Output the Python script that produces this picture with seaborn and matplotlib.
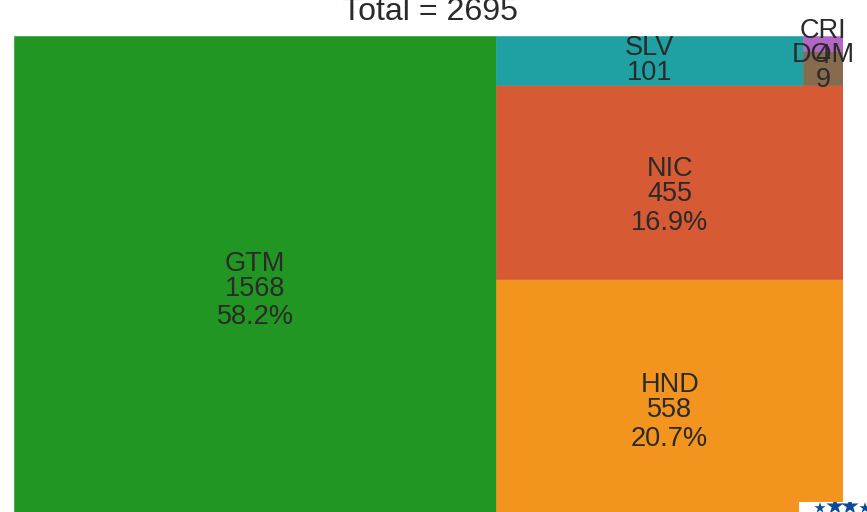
import matplotlib
matplotlib.use("Agg")
import matplotlib.pyplot as plt
import seaborn as sns

codes = ["GTM", "HND", "NIC", "SLV", "DOM", "CRI"]
counts = [1568, 558, 455, 101, 9, 4]
percents = ["58.2%", "20.7%", "16.9%", "", "", ""]
colors = ["#229622", "#F3941E", "#D65A33", "#1FA1A4", "#876B4E", "#B266C6"]
title = "Total = 2695"

sns.set_theme(style="white")
plt.rcParams["font.family"] = ["Liberation Sans", "DejaVu Sans"]
ink = "#2a2a2a"

fig = plt.figure(figsize=(8.67, 5.12), dpi=100)
W, H = 867, 512
ax = fig.add_axes([14 / W, (H - 517) / H, 829 / W, 481 / H])
ax.set_xlim(0, 1)
ax.set_ylim(0, 1)
ax.axis("off")

total = sum(counts)
gtm, hnd, nic, slv, dom, cri = counts
right = total - gtm
left_w = gtm / total
right_w = 1 - left_w
hnd_h = hnd / right
nic_h = nic / right
top_h = 1 - hnd_h - nic_h
small = dom + cri
slv_w = right_w * slv / (slv + small)
small_w = right_w - slv_w
dom_h = top_h * dom / small
cri_h = top_h - dom_h

cells = [
    (0, 0, left_w, 1),
    (left_w, 0, right_w, hnd_h),
    (left_w, hnd_h, right_w, nic_h),
    (left_w, hnd_h + nic_h, slv_w, top_h),
    (left_w + slv_w, hnd_h + nic_h, small_w, dom_h),
    (left_w + slv_w, hnd_h + nic_h + dom_h, small_w, cri_h),
]

for (x, y, w, h), c in zip(cells, colors):
    ax.bar(x, h, width=w, bottom=y, align="edge", color=c, edgecolor=c, linewidth=0.4)

fs = 19.5
px = 0.72
for (x, y, w, h), code, n, pct in zip(cells, codes, counts, percents):
    cx, cy = x + w / 2, y + h / 2
    lines = [(code, 5.5), (str(n), -19.5)]
    if pct:
        lines.append((pct, -48))
    for s, dy in lines:
        ax.annotate(s, (cx, cy), xytext=(0, dy * px), textcoords="offset points",
                    ha="center", va="baseline", fontsize=fs, color=ink,
                    annotation_clip=False, zorder=5)

fig.text(430 / W, (H - 20) / H, title, ha="center", va="baseline", fontsize=23.1, color=ink)

# logo corner, cut off by the lower edge of the picture
badge = fig.add_axes([799 / W, 0, 68 / W, 10 / H], zorder=10)
badge.set_xlim(799, 867)
badge.set_ylim(522, 502)
badge.set_facecolor("white")
badge.set_xticks([])
badge.set_yticks([])
for sp in badge.spines.values():
    sp.set_visible(False)
star_x = [820, 835, 850, 865]
star_y = [514, 510.5, 510.5, 514]
star_s = [70, 170, 170, 70]
badge.scatter(star_x, star_y, s=star_s, marker="*", color="#0B4A9B", linewidths=0, clip_on=True)

fig.savefig("out.png", dpi=100)
